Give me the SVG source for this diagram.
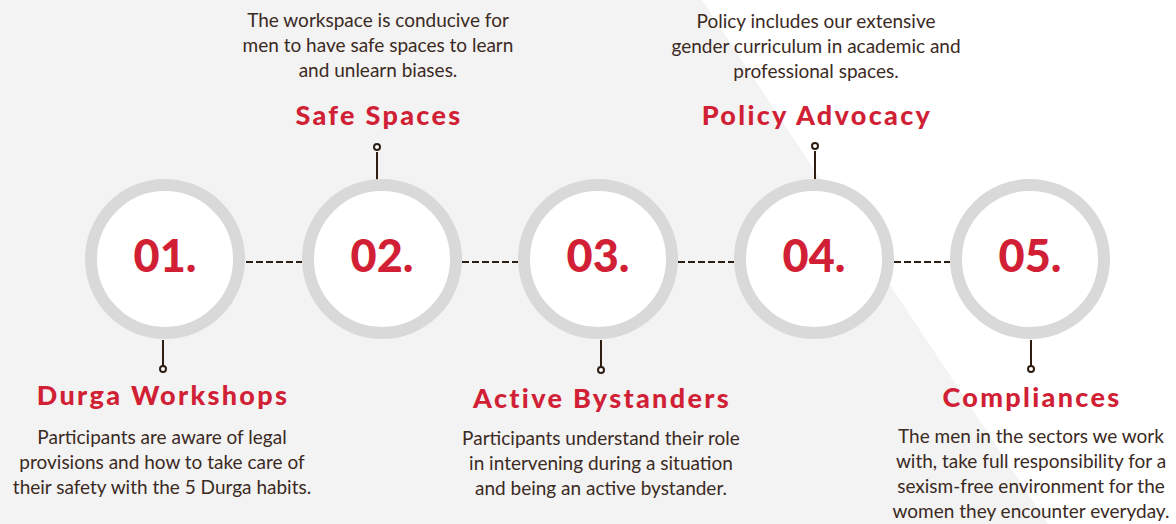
<svg xmlns="http://www.w3.org/2000/svg" width="1176" height="524" viewBox="0 0 1176 524">
<defs>
<style>
.ring{fill:#ffffff;stroke:#d9d9d9;stroke-width:12}
.num{font-family:Lato,"Liberation Sans",sans-serif;font-weight:900;font-size:45px;fill:#d11f35;text-anchor:middle}
.title{font-family:Lato,"Liberation Sans",sans-serif;font-weight:900;font-size:27px;fill:#d11f35;text-anchor:middle;letter-spacing:2.3px}
.body{font-family:Lato,"Liberation Sans",sans-serif;font-size:19px;fill:#3b2a1f;text-anchor:middle}
.stem{stroke:#2e1d12;stroke-width:2;fill:none}
.dot{fill:#ffffff;stroke:#2e1d12;stroke-width:2}
.dash{stroke:#2e1d12;stroke-width:2;stroke-dasharray:7 3}
</style>
</defs>
<rect width="1176" height="524" fill="#ffffff"/>
<polygon points="0,0 702,0 1048,524 0,524" fill="#f3f3f3"/>
<g id="connectors">
<line class="dash" x1="246" y1="262" x2="302" y2="262"/>
<line class="dash" x1="462" y1="262" x2="518" y2="262"/>
<line class="dash" x1="678" y1="262" x2="734" y2="262"/>
<line class="dash" x1="894" y1="262" x2="950" y2="262"/>
<line class="stem" x1="163" y1="340" x2="163" y2="366"/>
<circle class="dot" cx="163" cy="369" r="3"/>
<line class="stem" x1="377" y1="152" x2="377" y2="180"/>
<circle class="dot" cx="377" cy="147" r="3"/>
<line class="stem" x1="601" y1="340" x2="601" y2="367"/>
<circle class="dot" cx="601" cy="370" r="3"/>
<line class="stem" x1="815" y1="151" x2="815" y2="180"/>
<circle class="dot" cx="815" cy="146" r="3"/>
<line class="stem" x1="1031" y1="340" x2="1031" y2="366"/>
<circle class="dot" cx="1031" cy="369" r="3"/>
</g>
<g id="node1">
<circle class="ring" cx="165" cy="259" r="74"/>
<text class="num" x="165" y="272">01.</text>
<text class="title" x="163" y="405">Durga Workshops</text>
<text class="body" x="162" y="444">Participants are aware of legal</text>
<text class="body" x="162" y="469">provisions and how to take care of</text>
<text class="body" x="162" y="494">their safety with the 5 Durga habits.</text>
</g>
<g id="node2">
<circle class="ring" cx="382" cy="259" r="74"/>
<text class="num" x="382" y="272">02.</text>
<text class="title" x="379" y="125">Safe Spaces</text>
<text class="body" x="378" y="27">The workspace is conducive for</text>
<text class="body" x="378" y="52">men to have safe spaces to learn</text>
<text class="body" x="378" y="77">and unlearn biases.</text>
</g>
<g id="node3">
<circle class="ring" cx="598" cy="259" r="74"/>
<text class="num" x="598" y="272">03.</text>
<text class="title" x="602" y="408">Active Bystanders</text>
<text class="body" x="601" y="445">Participants understand their role</text>
<text class="body" x="601" y="470">in intervening during a situation</text>
<text class="body" x="601" y="495">and being an active bystander.</text>
</g>
<g id="node4">
<circle class="ring" cx="814" cy="259" r="74"/>
<text class="num" x="814" y="272">04.</text>
<text class="title" x="817" y="125">Policy Advocacy</text>
<text class="body" x="816" y="28">Policy includes our extensive</text>
<text class="body" x="816" y="53">gender curriculum in academic and</text>
<text class="body" x="816" y="78">professional spaces.</text>
</g>
<g id="node5">
<circle class="ring" cx="1030" cy="259" r="74"/>
<text class="num" x="1030" y="272">05.</text>
<text class="title" x="1032" y="407">Compliances</text>
<text class="body" x="1031" y="443">The men in the sectors we work</text>
<text class="body" x="1031" y="468">with, take full responsibility for a</text>
<text class="body" x="1031" y="493">sexism-free environment for the</text>
<text class="body" x="1031" y="518">women they encounter everyday.</text>
</g>
</svg>
